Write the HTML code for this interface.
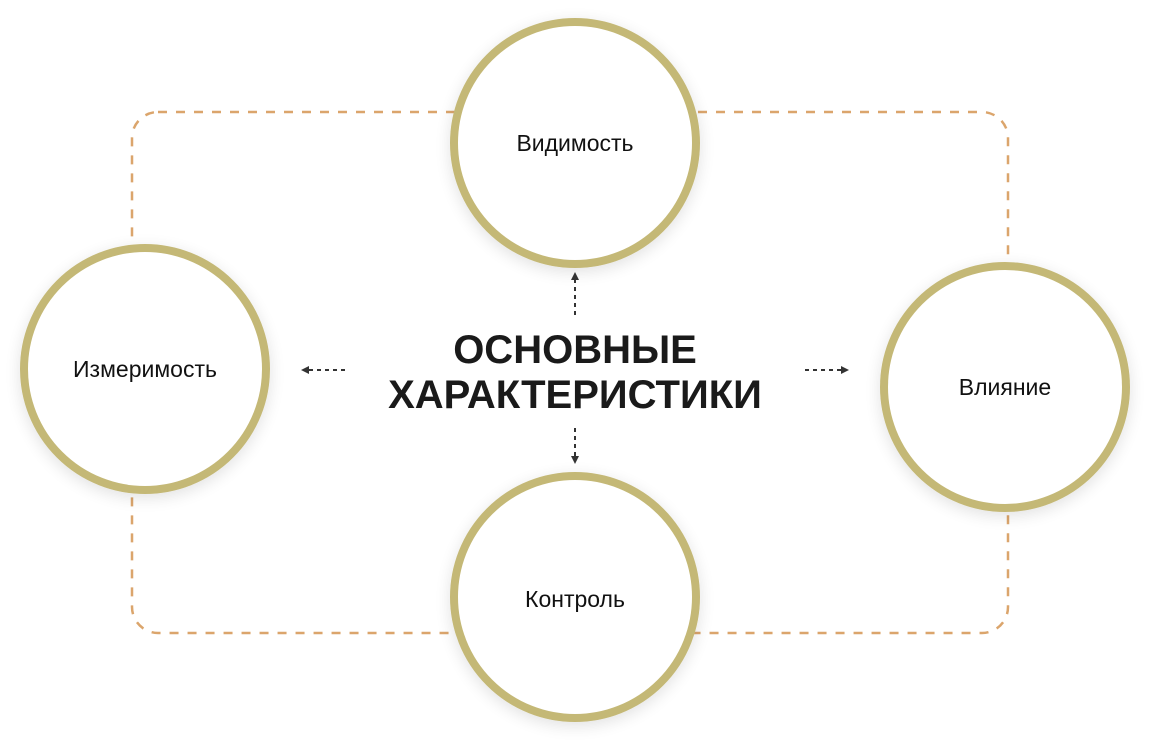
<!DOCTYPE html>
<html><head><meta charset="utf-8"><style>
html,body{margin:0;padding:0;background:#fff;}
body{width:1150px;height:740px;overflow:hidden;position:relative;font-family:"Liberation Sans","Noto Sans CJK SC",sans-serif;}
</style></head><body>
<svg width="1150" height="740" viewBox="0 0 1150 740" xmlns="http://www.w3.org/2000/svg" style="position:absolute;left:0;top:0">
<defs>
<filter id="sh" x="-30%" y="-30%" width="160%" height="160%">
<feGaussianBlur in="SourceAlpha" stdDeviation="8"/>
<feOffset dx="0" dy="4"/>
<feComponentTransfer><feFuncA type="linear" slope="0.12"/></feComponentTransfer>
<feMerge><feMergeNode/><feMergeNode in="SourceGraphic"/></feMerge>
</filter>
<marker id="ah" markerWidth="8" markerHeight="8" refX="4" refY="4" orient="auto" markerUnits="userSpaceOnUse">
<path d="M0,0 L8,4 L0,8 Z" fill="#333"/>
</marker>
</defs>
<rect x="132" y="112" width="876" height="521" rx="26" ry="26" fill="none" stroke="#dba56c" stroke-width="2.5" stroke-dasharray="9,9"/>
<g fill="#fff" stroke="#c4b876" stroke-width="8" filter="url(#sh)">
<circle cx="575" cy="143" r="121"/>
<circle cx="145" cy="369" r="121"/>
<circle cx="1005" cy="387" r="121"/>
<circle cx="575" cy="597" r="121"/>
</g>
<g stroke="#333" stroke-width="2" stroke-dasharray="4,4" fill="none">
<line x1="575" y1="315" x2="575" y2="276" marker-end="url(#ah)"/>
<line x1="575" y1="428" x2="575" y2="460" marker-end="url(#ah)"/>
<line x1="345" y1="370" x2="305" y2="370" marker-end="url(#ah)"/>
<line x1="805" y1="370" x2="845" y2="370" marker-end="url(#ah)"/>
</g>
<g font-family="Liberation Sans, sans-serif" fill="#111" font-size="23" text-anchor="middle">
<text x="575" y="151">Видимость</text>
<text x="145" y="377">Измеримость</text>
<text x="1005" y="395">Влияние</text>
<text x="575" y="607">Контроль</text>
</g>
<g font-family="Liberation Sans, sans-serif" fill="#1a1a1a" font-size="40" font-weight="bold" text-anchor="middle">
<text x="575" y="363">ОСНОВНЫЕ</text>
<text x="575" y="408">ХАРАКТЕРИСТИКИ</text>
</g>
</svg>
</body></html>
